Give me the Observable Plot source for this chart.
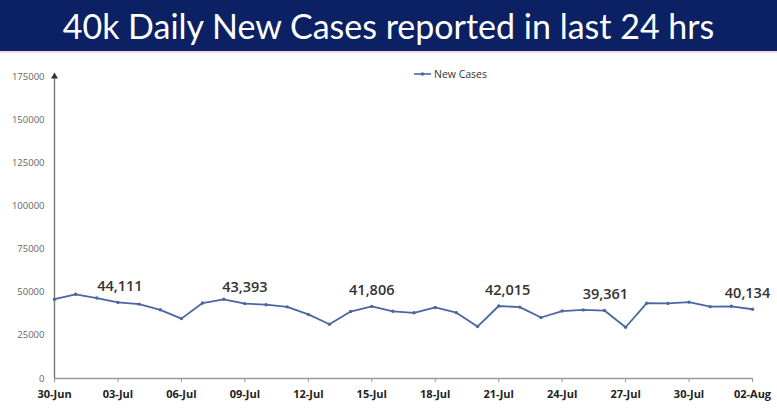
<!DOCTYPE html>
<html>
<head>
<meta charset="utf-8">
<script src="https://cdn.jsdelivr.net/npm/d3@7"></script>
<script src="https://cdn.jsdelivr.net/npm/@observablehq/plot@0.6"></script>
<style>
  html, body { margin: 0; padding: 0; background: #fff; }
  #wrap { position: relative; width: 777px; height: 412px; overflow: hidden; }
  #banner { height: 51px; background: #0b2163; color: #fff; font-family: Lato, "Open Sans", sans-serif;
            font-size: 34px; line-height: 51px; text-align: center; border-bottom: 2px solid #f3dada; }
  #legend { position: absolute; left: 414px; top: 67px; font-family: "Open Sans", sans-serif; font-size: 10.5px; color: #333;
            display: flex; align-items: center; gap: 3px; }
  #chart { position: absolute; left: 0; top: 52px; }
</style>
</head>
<body>
<div id="wrap">
  <div id="banner">40k Daily New Cases reported in last 24 hrs</div>
  <div id="chart"></div>
  <div id="legend">
    <svg width="17" height="8"><line x1="0" y1="4" x2="17" y2="4" stroke="#4a67a3" stroke-width="1.6"/><circle cx="8.5" cy="4" r="1.8" fill="#4a67a3"/></svg>
    <span>New Cases</span>
  </div>
</div>
<script>
const dates = ["2021-06-30","2021-07-01","2021-07-02","2021-07-03","2021-07-04","2021-07-05","2021-07-06","2021-07-07",
  "2021-07-08","2021-07-09","2021-07-10","2021-07-11","2021-07-12","2021-07-13","2021-07-14","2021-07-15","2021-07-16",
  "2021-07-17","2021-07-18","2021-07-19","2021-07-20","2021-07-21","2021-07-22","2021-07-23","2021-07-24","2021-07-25",
  "2021-07-26","2021-07-27","2021-07-28","2021-07-29","2021-07-30","2021-07-31","2021-08-01","2021-08-02"];
const newCases = [45951,48786,46617,44111,43071,39796,34703,43733,45892,43393,42766,41506,37154,31443,38792,41806,38949,
  38079,41157,38164,30093,42015,41383,35342,39097,39742,39361,29689,43654,43509,44230,41649,41831,40134];
const labeledDates = ["2021-07-03","2021-07-09","2021-07-15","2021-07-21","2021-07-26","2021-08-02"];
const xTickDates = ["2021-06-30","2021-07-03","2021-07-06","2021-07-09","2021-07-12","2021-07-15","2021-07-18",
  "2021-07-21","2021-07-24","2021-07-27","2021-07-30","2021-08-02"];
const yTicks = [0,25000,50000,75000,100000,125000,150000,175000];

// label horizontal nudges (style only)
const labelShift = {"2021-07-03": 2, "2021-07-09": 0, "2021-07-15": 0, "2021-07-21": 9, "2021-07-26": 1, "2021-08-02": -5};

const parse = d3.utcParse("%Y-%m-%d");
const data = dates.map((d, i) => ({date: parse(d), value: newCases[i], key: d}));
const labeled = data.filter(d => labeledDates.includes(d.key));
const x0 = data[0].date;
const xMax = data[data.length - 1].date;
const color = "#4a67a3";

const chart = Plot.plot({
  width: 777,
  height: 360,
  marginTop: 24,
  marginBottom: 34,
  marginLeft: 54,
  marginRight: 25,
  style: {fontFamily: "'Open Sans', sans-serif", background: "transparent", overflow: "visible"},
  x: {type: "utc", domain: [x0, xMax]},
  y: {domain: [0, 175000]},
  marks: [
    Plot.axisY({ticks: yTicks, tickSize: 0, tickPadding: 10, tickFormat: d => String(d), fontSize: 9.5, fill: "#666", label: null}),
    Plot.axisX({ticks: xTickDates.map(parse), tickSize: 4, tickPadding: 8, tickFormat: d3.utcFormat("%d-%b"),
      fontSize: 11, fontWeight: "bold", fill: "#222", stroke: "#999", label: null}),
    Plot.ruleY([0], {stroke: "#999", strokeWidth: 1.4}),
    Plot.ruleX([x0], {y1: 0, y2: 175000, stroke: "#777", strokeWidth: 1.4}),
    Plot.dot([{date: x0, value: 175000}], {x: "date", y: "value", symbol: "triangle", r: 2.6, fill: "#333", stroke: null}),
    Plot.line(data, {x: "date", y: "value", stroke: color, strokeWidth: 1.8}),
    Plot.dot(data, {x: "date", y: "value", r: 1.7, fill: color, stroke: null}),
    ...labeled.map(d => Plot.text([d], {x: "date", y: "value", text: r => d3.format(",")(r.value), dy: -16,
      dx: labelShift[d.key], fontSize: 14.5, fontWeight: 600, fill: "#333"}))
  ]
});
document.getElementById("chart").appendChild(chart);
</script>
</body>
</html>
